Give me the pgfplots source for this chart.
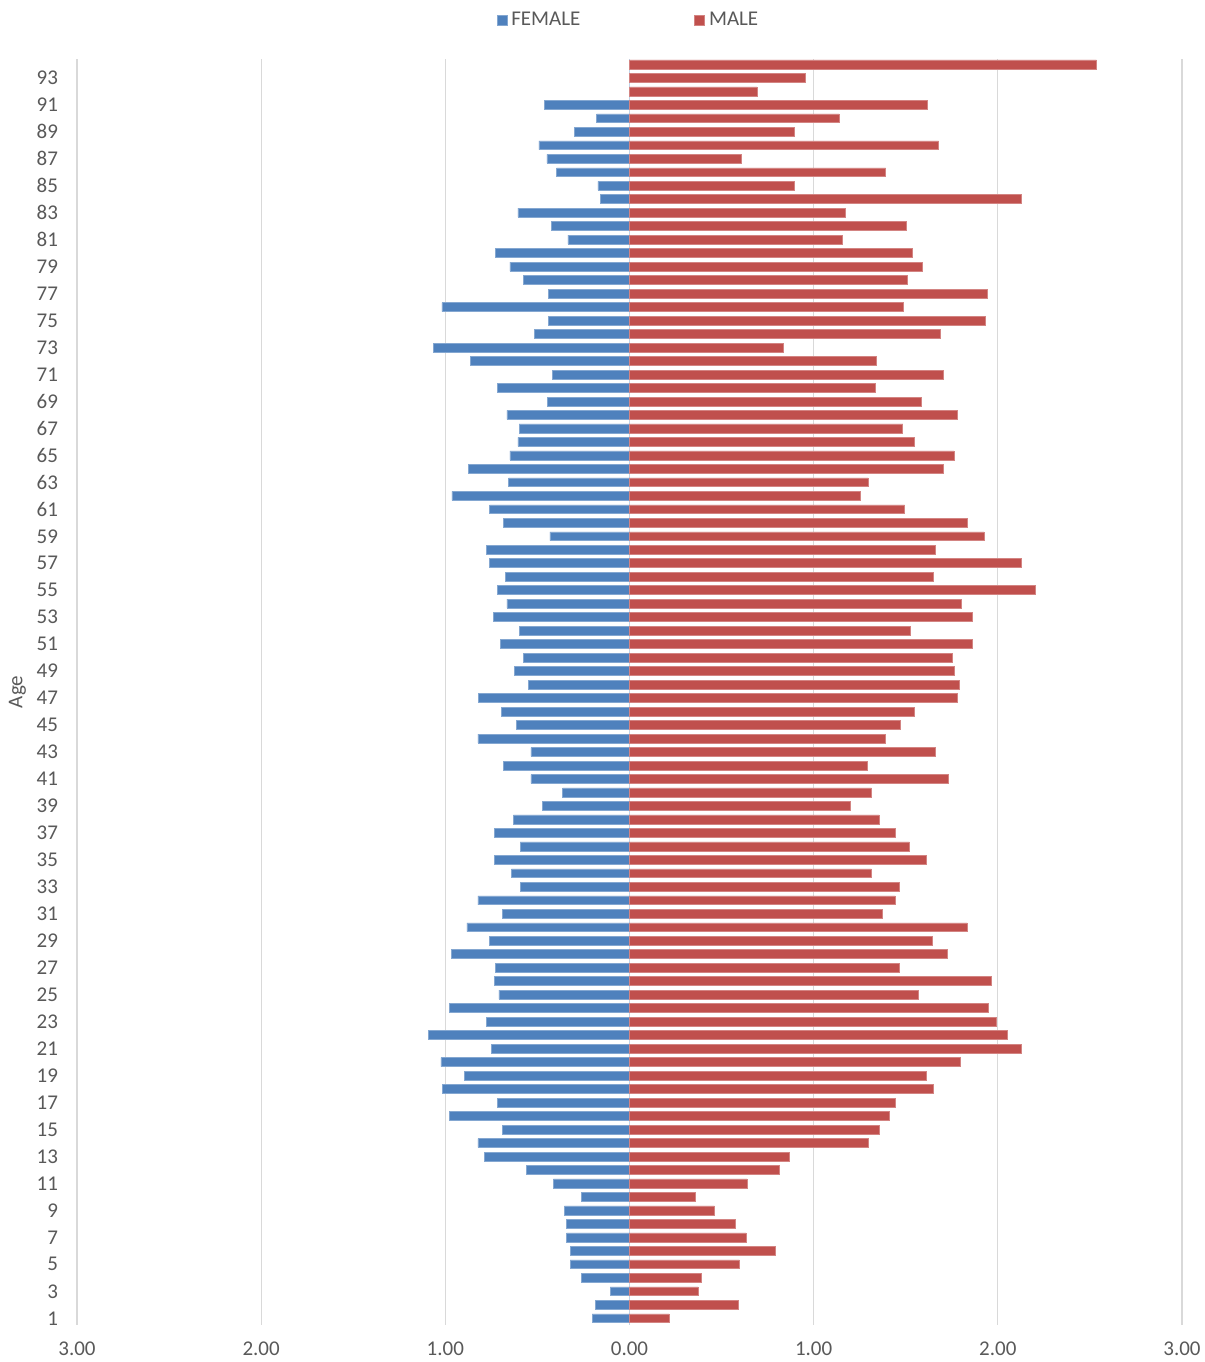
\documentclass[border=0pt]{standalone}
\usepackage{fontspec}
\setmainfont{Carlito}
\usepackage{pgfplots}
\usepackage{pgfplotstable}
\pgfplotsset{compat=1.18}
\definecolor{fem}{HTML}{4F81BD}
\definecolor{mal}{HTML}{C0504D}
\definecolor{txt}{HTML}{595959}
\definecolor{grd}{HTML}{D9D9D9}
\pgfplotstableread{
age female male
1 0.203 0.215
2 0.184 0.589
3 0.105 0.372
4 0.260 0.391
5 0.322 0.597
6 0.322 0.790
7 0.341 0.632
8 0.341 0.573
9 0.353 0.461
10 0.260 0.358
11 0.413 0.637
12 0.558 0.814
13 0.790 0.866
14 0.823 1.296
15 0.692 1.356
16 0.976 1.413
17 0.716 1.442
18 1.017 1.647
19 0.895 1.611
20 1.024 1.797
21 0.752 2.129
22 1.091 2.053
23 0.776 1.990
24 0.976 1.950
25 0.709 1.568
26 0.733 1.967
27 0.728 1.465
28 0.969 1.726
29 0.759 1.642
30 0.883 1.833
31 0.692 1.375
32 0.823 1.442
33 0.594 1.465
34 0.642 1.313
35 0.733 1.611
36 0.594 1.520
37 0.733 1.446
38 0.630 1.356
39 0.473 1.198
40 0.363 1.313
41 0.535 1.730
42 0.683 1.289
43 0.535 1.663
44 0.823 1.391
45 0.613 1.470
46 0.697 1.544
47 0.819 1.780
48 0.547 1.790
49 0.623 1.761
50 0.575 1.754
51 0.702 1.864
52 0.599 1.525
53 0.740 1.859
54 0.666 1.804
55 0.716 2.203
56 0.673 1.647
57 0.759 2.129
58 0.776 1.659
59 0.432 1.924
60 0.683 1.833
61 0.759 1.494
62 0.964 1.253
63 0.656 1.296
64 0.874 1.702
65 0.649 1.761
66 0.606 1.549
67 0.599 1.484
68 0.666 1.780
69 0.444 1.582
70 0.716 1.332
71 0.420 1.706
72 0.866 1.339
73 1.064 0.835
74 0.518 1.690
75 0.439 1.931
76 1.019 1.489
77 0.439 1.945
78 0.578 1.508
79 0.649 1.592
80 0.728 1.537
81 0.334 1.158
82 0.425 1.501
83 0.606 1.174
84 0.160 2.129
85 0.172 0.895
86 0.396 1.391
87 0.449 0.606
88 0.492 1.678
89 0.298 0.895
90 0.179 1.138
91 0.461 1.616
92 nan 0.692
93 nan 0.952
94 nan 2.535
}\pop
\begin{document}
\begin{tikzpicture}
\begin{axis}[
  at={(0,0)}, anchor=south west,
  scale only axis,
  width=552.5pt, height=633pt,
  xmin=-3, xmax=3,
  ymin=0.5, ymax=94.4,
  xbar, bar width=0.66, bar shift=0pt,
  axis line style={draw=none},
  major tick length=0pt,
  xtick={-3,-2,-1,0,1,2,3},
  xticklabels={3.00,2.00,1.00,0.00,1.00,2.00,3.00},
  ytick={1,3,...,93},
  xmajorgrids,
  grid style={grd, line width=0.6pt},
  extra x ticks={0},
  extra x tick labels={},
  extra x tick style={grid style={color=fem!35!white, line width=0.6pt}},
  /pgf/number format/assume math mode=true,
  tick label style={font=\fontsize{10.5}{12}\selectfont, text=txt},
  yticklabel style={xshift=-6pt},
  xticklabel style={yshift=-5pt},
  ylabel={Age},
  ylabel style={font=\fontsize{10.5}{12}\selectfont, text=txt, at={(rel axis cs:0,0.5)}, anchor=south, yshift=22pt},
  unbounded coords=discard,
  legend columns=2,
  legend style={at={(0.5,1)}, anchor=south, yshift=11pt, draw=none, fill=none,
    font=\fontsize{10.5}{12}\selectfont, text=txt,
    /tikz/every even column/.append style={column sep=55pt}},
  legend image code/.code={\fill[#1] (0pt,-2.6pt) rectangle (5pt,2.6pt);},
]
\addplot[fill=fem, draw=fem!70!white, line width=0.3pt] table[x expr=-\thisrow{female}, y=age] {\pop};
\addlegendentry{FEMALE}
\addplot[fill=mal, draw=mal!70!white, line width=0.3pt] table[x=male, y=age] {\pop};
\addlegendentry{MALE}
\end{axis}
\pgfresetboundingbox
\useasboundingbox (-38.5pt,-18.5pt) rectangle (564pt,662.5pt);
\end{tikzpicture}
\end{document}
